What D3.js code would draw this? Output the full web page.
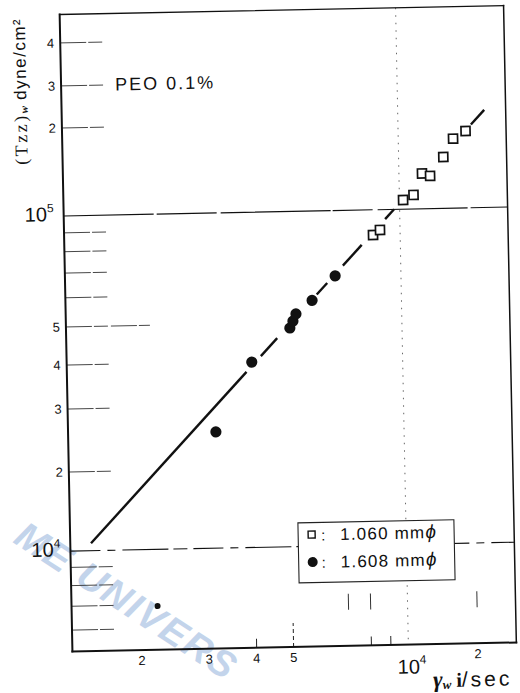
<!DOCTYPE html>
<html>
<head>
<meta charset="utf-8">
<script src="https://cdn.jsdelivr.net/npm/d3@7"></script>
<style>
  html, body { margin: 0; padding: 0; background: #fff; }
  svg { display: block; }
</style>
</head>
<body>
<svg id="chart" width="520" height="693"></svg>
<script>
// PEO 0.1 % — wall normal stress (Tzz)w [dyne/cm²] against wall shear rate γw [1/sec]

// 1.060 mm ϕ capillary (open squares)
const tube1060X = [8490, 8860, 10370, 11520, 12590, 13640, 15620, 17280, 19600];
const tube1060Y = [85450, 88100, 107500, 111700, 132100, 129400, 149900, 172900, 183300];

// 1.608 mm ϕ capillary (filled circles)
const tube1608X = [2210, 3210, 4020, 5080, 5180, 5280, 5830, 6720];
const tube1608Y = [6930, 25400, 39800, 48400, 50400, 52700, 57200, 66500];

// correlation line: end points, and the stretches left open around the markers
const fitX = [1490, 23700];
const fitY = [10670, 219400];
const fitBreaks = [[3890, 4250], [4700, 6000], [6400, 7050], [7920, 9150], [9670, 20700]];

// legend
const seriesNames = ["1.060 mm", "1.608 mm"];

// y axis ticks and labels
const yTickValues = [6e3, 7e3, 8e3, 9e3, 2e4, 3e4, 4e4, 5e4, 6e4, 7e4, 8e4, 9e4, 2e5, 3e5, 4e5];
const yLabelValues = [2e4, 3e4, 4e4, 5e4, 2e5, 3e5, 4e5];
const yLabelText = ["2", "3", "4", "5", "2", "3", "4"];
const yDecades = [1e4, 1e5];
const yDecadeExp = ["4", "5"];

// x axis ticks and labels
const xTickValues = [4e3, 5e3, 8e3, 9e3];
const xFloatTicks = [7e3, 8e3, 2e4];
const xLabelValues = [2e3, 3e3, 4e3, 5e3, 2e4];
const xLabelText = ["2", "3", "4", "5", "2"];
const xDecades = [1e4];
const xDecadeExp = ["4"];

// ---- layout ----
const W = 444, H = 637;           // plot frame
const frameLeft = 66, frameTop = 10;
// the printed log paper is not evenly divided: calibrate each axis at its printed marks
const xCalValues = [2e3, 1e4, 2e4];
const xCalPx = [69.5, 336, 405.5];
const yCalValues = [6e3, 1e4, 2e4, 3e4, 4e4, 5e4, 1e5, 2e5, 3e5, 4e5];
const yCalPx = [615.7, 536.7, 457.6, 394.6, 350.6, 312.5, 201.5, 113.5, 71.4, 28.4];

const x = d3.scaleLog().domain(xCalValues).range(xCalPx);
const y = d3.scaleLog().domain(yCalValues).range(yCalPx);

const ink = "#111";
const sans = "'Liberation Sans', Arial, sans-serif";
const serif = "'Liberation Serif', 'Times New Roman', serif";

const svg = d3.select("#chart");

// faint repository watermark
const wm = svg.append("g").attr("fill", "#c3d4eb");
wm.append("text")
  .attr("transform", "translate(12,542) rotate(33)")
  .attr("font-family", sans).attr("font-weight", "bold").attr("font-style", "italic")
  .attr("font-size", 38).attr("letter-spacing", 2)
  .text("ME UNIVERS");

// the sheet sits slightly turned on the page
const page = svg.append("g").attr("transform", "rotate(-1.15 288 328.5)");
const plot = page.append("g").attr("transform", `translate(${frameLeft},${frameTop})`);

// decade grid lines
plot.selectAll("line.hgrid").data(yDecades).join("line")
  .attr("class", "hgrid")
  .attr("x1", 0).attr("x2", W)
  .attr("y1", d => y(d)).attr("y2", d => y(d))
  .attr("stroke", ink).attr("stroke-width", 1.1)
  .attr("stroke-dasharray", (d, i) => i === 0 ? "30 7 8 7 46 5 14 6" : "90 3 60 4 110 2 40 5");

plot.selectAll("line.vgrid").data(xDecades).join("line")
  .attr("class", "vgrid")
  .attr("x1", d => x(d)).attr("x2", d => x(d))
  .attr("y1", 0).attr("y2", H)
  .attr("stroke", "#666").attr("stroke-width", 1)
  .attr("stroke-dasharray", "1.5 6");

// y tick lines running in from the left edge
plot.selectAll("line.ytick").data(yTickValues).join("line")
  .attr("class", "ytick")
  .attr("x1", 0).attr("x2", d => d === 5e4 ? 84 : 45)
  .attr("y1", d => y(d)).attr("y2", d => y(d))
  .attr("stroke", "#333").attr("stroke-width", 0.9)
  .attr("stroke-dasharray", "26 2 14 3");

// x tick lines rising from the bottom edge
plot.selectAll("line.xtick").data(xTickValues).join("line")
  .attr("class", "xtick")
  .attr("x1", d => x(d)).attr("x2", d => x(d))
  .attr("y1", H).attr("y2", d => d === 5e3 ? H - 24 : H - 9)
  .attr("stroke", "#222").attr("stroke-width", 1)
  .attr("stroke-dasharray", d => d === 5e3 ? "4 3" : null);

plot.selectAll("line.xfloat").data(xFloatTicks).join("line")
  .attr("class", "xfloat")
  .attr("x1", d => x(d)).attr("x2", d => x(d))
  .attr("y1", H - 52).attr("y2", H - 36)
  .attr("stroke", "#333").attr("stroke-width", 1);

// y tick labels
plot.selectAll("text.ylab").data(yLabelValues).join("text")
  .attr("class", "ylab")
  .attr("x", -6).attr("y", d => y(d) + 4.5)
  .attr("text-anchor", "end")
  .attr("font-family", sans).attr("font-size", 13).attr("fill", ink)
  .text((d, i) => yLabelText[i]);

const yDec = plot.selectAll("text.ydec").data(yDecades).join("text")
  .attr("class", "ydec")
  .attr("x", -10).attr("y", d => y(d) + 5)
  .attr("text-anchor", "end")
  .attr("font-family", sans).attr("font-size", 20).attr("fill", ink);
yDec.append("tspan").text("10");
yDec.append("tspan").attr("dy", -9).attr("font-size", 12).text((d, i) => yDecadeExp[i]);

// x tick labels
plot.selectAll("text.xlab").data(xLabelValues).join("text")
  .attr("class", "xlab")
  .attr("x", d => x(d)).attr("y", H + 15)
  .attr("text-anchor", "middle")
  .attr("font-family", sans).attr("font-size", 13).attr("fill", ink)
  .text((d, i) => xLabelText[i]);

xDecades.forEach((d, i) => {
  plot.append("text")
    .attr("x", x(d)).attr("y", H + 29)
    .attr("text-anchor", "middle")
    .attr("font-family", sans).attr("font-size", 20).attr("fill", ink)
    .text("10");
  plot.append("text")
    .attr("x", x(d) + 11).attr("y", H + 19)
    .attr("font-family", sans).attr("font-size", 12).attr("fill", ink)
    .text(xDecadeExp[i]);
});

// frame
const frame = [
  [0, 0, W, 0, 1.4], [W, 0, W, H, 1.5], [0, H, W, H, 2], [0, 0, 0, H, 2]
];
plot.selectAll("line.frame").data(frame).join("line")
  .attr("class", "frame")
  .attr("x1", d => d[0]).attr("y1", d => d[1])
  .attr("x2", d => d[2]).attr("y2", d => d[3])
  .attr("stroke", ink).attr("stroke-width", d => d[4])
  .attr("stroke-linecap", "square");

// correlation line, drawn straight on the paper between its end points
const p0 = [x(fitX[0]), y(fitY[0])];
const p1 = [x(fitX[1]), y(fitY[1])];
const along = gx => {
  const px = x(gx);
  const t = (px - p0[0]) / (p1[0] - p0[0]);
  return [px, p0[1] + t * (p1[1] - p0[1])];
};
const cuts = [fitX[0], ...fitBreaks.flat(), fitX[1]];
const spans = d3.range(0, cuts.length, 2).map(i => [cuts[i], cuts[i + 1]]);
plot.selectAll("line.fit").data(spans).join("line")
  .attr("class", "fit")
  .attr("x1", d => along(d[0])[0]).attr("y1", d => along(d[0])[1])
  .attr("x2", d => along(d[1])[0]).attr("y2", d => along(d[1])[1])
  .attr("stroke", ink).attr("stroke-width", 2.4);

// 1.608 mm data
const circles = tube1608X.map((v, i) => ({ x: v, y: tube1608Y[i] }));
plot.selectAll("circle.p1608").data(circles).join("circle")
  .attr("class", "p1608")
  .attr("cx", d => x(d.x)).attr("cy", d => y(d.y))
  .attr("r", (d, i) => i === 0 ? 3 : 5.6)
  .attr("fill", ink);

// 1.060 mm data
const squares = tube1060X.map((v, i) => ({ x: v, y: tube1060Y[i] }));
const side = 9;
plot.selectAll("rect.p1060").data(squares).join("rect")
  .attr("class", "p1060")
  .attr("x", d => x(d.x) - side / 2).attr("y", d => y(d.y) - side / 2)
  .attr("width", side).attr("height", side)
  .attr("fill", "#fff").attr("stroke", ink).attr("stroke-width", 1.7);

// legend
const lg = plot.append("g").attr("transform", "translate(228,513)");
lg.append("rect").attr("width", 156).attr("height", 60)
  .attr("fill", "#fff").attr("stroke", "#222").attr("stroke-width", 1.1);
lg.append("rect").attr("x", 10).attr("y", 8.5).attr("width", 7).attr("height", 7)
  .attr("fill", "#fff").attr("stroke", ink).attr("stroke-width", 1.4);
lg.append("circle").attr("cx", 14).attr("cy", 39.5).attr("r", 5).attr("fill", ink);
seriesNames.forEach((name, i) => {
  const yy = 18 + i * 27.5;
  lg.append("text").attr("x", 23).attr("y", yy)
    .attr("font-family", sans).attr("font-size", 15).attr("fill", ink).text(":");
  const t = lg.append("text").attr("x", 42).attr("y", yy)
    .attr("font-family", sans).attr("font-size", 17).attr("letter-spacing", 1.2)
    .attr("fill", ink);
  t.append("tspan").text(name);
  t.append("tspan").attr("font-style", "italic").attr("font-size", 19).text("ϕ");
});

// annotation
plot.append("text")
  .attr("x", 54).attr("y", 77)
  .attr("font-family", sans).attr("font-size", 18).attr("letter-spacing", 2)
  .attr("fill", ink).text("PEO 0.1%");

// axis titles
const yTitle = page.append("text")
  .attr("transform", "translate(31,86) rotate(-90)")
  .attr("text-anchor", "middle").attr("fill", ink);
yTitle.append("tspan").attr("font-family", serif).attr("font-size", 18)
  .attr("letter-spacing", 2.5).text("(Tzz)");
yTitle.append("tspan").attr("font-family", serif).attr("font-size", 11)
  .attr("font-weight", "bold").attr("font-style", "italic").attr("dy", 1).text("w");
yTitle.append("tspan").attr("font-family", sans).attr("font-size", 17)
  .attr("letter-spacing", 1.5).attr("dy", -1).text(" dyne/cm²");

const xTitle = page.append("text")
  .attr("x", 426).attr("y", 690).attr("fill", ink);
xTitle.append("tspan").attr("font-family", serif).attr("font-size", 23)
  .attr("font-weight", "bold").attr("font-style", "italic").text("γ");
xTitle.append("tspan").attr("font-family", serif).attr("font-size", 13)
  .attr("font-weight", "bold").attr("font-style", "italic").attr("dy", 2).text("w");
xTitle.append("tspan").attr("font-family", serif).attr("font-size", 20)
  .attr("font-weight", "bold").attr("dy", -2).text(" i");
xTitle.append("tspan").attr("font-family", sans).attr("font-size", 21)
  .attr("letter-spacing", 3).text("/sec");
</script>
</body>
</html>
